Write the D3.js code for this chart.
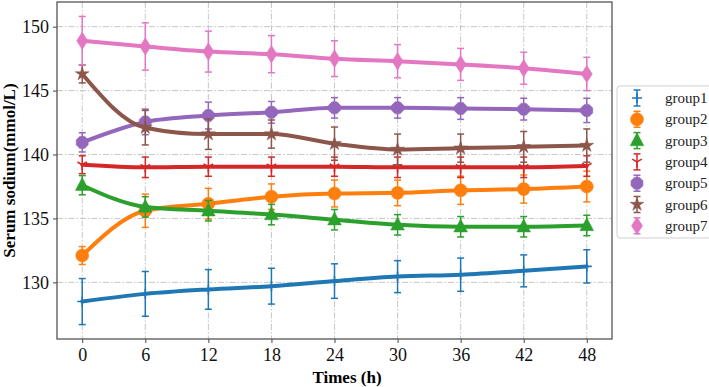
<!DOCTYPE html>
<html>
<head>
<meta charset="utf-8">
<script src="https://cdn.jsdelivr.net/npm/d3@7"></script>
<style>
  body { margin: 0; background: #fff; }
  svg { display: block; font-family: "Liberation Serif", "Times New Roman", serif; }
</style>
</head>
<body>
<div id="chart"></div>
<script>
var times = [0, 6, 12, 18, 24, 30, 36, 42, 48];
var groupNames = ["group1", "group2", "group3", "group4", "group5", "group6", "group7"];

var group1 = [128.5, 129.1, 129.45, 129.7, 130.1, 130.45, 130.6, 130.9, 131.25];
var group2 = [132.1, 135.6, 136.15, 136.7, 136.95, 137.0, 137.2, 137.3, 137.5];
var group3 = [137.6, 135.9, 135.6, 135.3, 134.9, 134.5, 134.35, 134.35, 134.45];
var group4 = [139.2, 139.0, 139.05, 139.05, 139.05, 139.0, 139.0, 139.0, 139.1];
var group5 = [140.95, 142.55, 143.05, 143.3, 143.65, 143.65, 143.6, 143.55, 143.45];
var group6 = [146.3, 142.1, 141.6, 141.6, 140.85, 140.4, 140.5, 140.6, 140.7];
var group7 = [148.9, 148.45, 148.05, 147.85, 147.5, 147.3, 147.05, 146.75, 146.3];

var err1 = [1.8, 1.75, 1.55, 1.4, 1.35, 1.25, 1.3, 1.25, 1.3];
var err2 = [0.7, 1.3, 1.2, 1.0, 1.05, 1.0, 1.1, 1.1, 1.2];
var err3 = [0.75, 0.8, 0.8, 0.8, 0.8, 0.8, 0.8, 0.8, 0.8];
var err4 = [0.7, 0.8, 0.75, 0.75, 0.75, 0.8, 0.8, 0.8, 0.8];
var err5 = [0.75, 1.0, 1.05, 0.85, 0.8, 0.8, 0.85, 0.85, 0.95];
var err6 = [0.7, 1.35, 1.2, 1.1, 1.3, 1.2, 1.1, 1.2, 1.3];
var err7 = [1.9, 1.85, 1.6, 1.45, 1.4, 1.3, 1.25, 1.25, 1.3];

var xTicks = [0, 6, 12, 18, 24, 30, 36, 42, 48];
var yTicks = [130, 135, 140, 145, 150];

var colors = ["#1f77b4", "#ff7f0e", "#2ca02c", "#d62728", "#9467bd", "#8c564b", "#e377c2"];
var markers = ["plus", "circle", "triangle", "tri", "octagon", "star", "diamond"];

var values = [group1, group2, group3, group4, group5, group6, group7];
var errs = [err1, err2, err3, err4, err5, err6, err7];

var W = 709, H = 387;
var margin = { top: 2, right: 97, bottom: 48, left: 57 };
var width = W - margin.left - margin.right,
    height = H - margin.top - margin.bottom;

var svg = d3.select("#chart").append("svg")
    .attr("width", W)
    .attr("height", H);

var g = svg.append("g")
    .attr("transform", "translate(" + margin.left + "," + margin.top + ")");

var x = d3.scaleLinear().domain([-2.4, 50.4]).range([0, width]);
var y = d3.scaleLinear().domain([125.57, 151.93]).range([height, 0]);

// grid
g.append("g").selectAll("line").data(xTicks).enter().append("line")
    .attr("x1", function (d) { return x(d); }).attr("x2", function (d) { return x(d); })
    .attr("y1", 0).attr("y2", height)
    .attr("stroke", "#c0c0c0").attr("stroke-width", 0.9)
    .attr("stroke-dasharray", "6,2,1.5,2");
g.append("g").selectAll("line").data(yTicks).enter().append("line")
    .attr("y1", function (d) { return y(d); }).attr("y2", function (d) { return y(d); })
    .attr("x1", 0).attr("x2", width)
    .attr("stroke", "#c0c0c0").attr("stroke-width", 0.9)
    .attr("stroke-dasharray", "6,2,1.5,2");

// axes
var xAxis = d3.axisBottom(x).tickValues(xTicks).tickSize(4).tickPadding(5);
var yAxis = d3.axisLeft(y).tickValues(yTicks).tickSize(4).tickPadding(4);

g.append("g").attr("transform", "translate(0," + height + ")").call(xAxis)
    .call(function (a) { a.select(".domain").remove(); });
g.append("g").call(yAxis)
    .call(function (a) { a.select(".domain").remove(); });

g.selectAll(".tick line").attr("stroke", "#444").attr("stroke-width", 1);
g.selectAll(".tick text").attr("fill", "#111").style("font-size", "18px")
    .style("font-family", "Liberation Serif");

function markerPath(type, s) {
    var p = d3.path();
    if (type === "octagon") {
        for (var i = 0; i < 8; i++) {
            var a = Math.PI / 8 + i * Math.PI / 4;
            var px = s * Math.cos(a), py = s * Math.sin(a);
            if (i === 0) p.moveTo(px, py); else p.lineTo(px, py);
        }
        p.closePath();
        return p.toString();
    }
    if (type === "diamond") {
        p.moveTo(0, -s * 1.35); p.lineTo(s * 0.85, 0); p.lineTo(0, s * 1.35); p.lineTo(-s * 0.85, 0); p.closePath();
        return p.toString();
    }
    if (type === "circle") return d3.symbol(d3.symbolCircle, Math.PI * s * s)();
    if (type === "triangle") {
        p.moveTo(0, -s * 1.2); p.lineTo(s * 1.05, s * 0.8); p.lineTo(-s * 1.05, s * 0.8); p.closePath();
        return p.toString();
    }
    if (type === "star") return d3.symbol(d3.symbolStar, s * s * 3.2)();
    if (type === "plus") {
        p.moveTo(-s, 0); p.lineTo(s, 0); p.moveTo(0, -s); p.lineTo(0, s);
        return p.toString();
    }
    if (type === "tri") {
        p.moveTo(0, 0); p.lineTo(0, s);
        p.moveTo(0, 0); p.lineTo(-s * 0.87, -s * 0.5);
        p.moveTo(0, 0); p.lineTo(s * 0.87, -s * 0.5);
        return p.toString();
    }
}
var markerSize = [5, 6.5, 6.5, 5.5, 6.5, 4.3, 6.5];

function drawMarker(sel, i) {
    var type = markers[i];
    var open = (type === "plus" || type === "tri");
    sel.append("path")
        .attr("d", markerPath(type, markerSize[i]))
        .attr("fill", open ? "none" : colors[i])
        .attr("stroke", colors[i])
        .attr("stroke-width", open ? 1.6 : 0.5);
}

var line = d3.line()
    .x(function (d) { return x(d.t); })
    .y(function (d) { return y(d.v); })
    .curve(d3.curveMonotoneX);

values.forEach(function (vals, i) {
    var data = times.map(function (t, k) { return { t: t, v: vals[k], e: errs[i][k] }; });
    var sg = g.append("g").attr("class", "series");

    // error bars
    var eb = sg.selectAll(".eb").data(data).enter().append("g");
    eb.append("line")
        .attr("x1", function (d) { return x(d.t); }).attr("x2", function (d) { return x(d.t); })
        .attr("y1", function (d) { return y(d.v - d.e); }).attr("y2", function (d) { return y(d.v + d.e); })
        .attr("stroke", colors[i]).attr("stroke-width", 1.5);
    [-1, 1].forEach(function (sgn) {
        eb.append("line")
            .attr("x1", function (d) { return x(d.t) - 3.5; }).attr("x2", function (d) { return x(d.t) + 3.5; })
            .attr("y1", function (d) { return y(d.v + sgn * d.e); }).attr("y2", function (d) { return y(d.v + sgn * d.e); })
            .attr("stroke", colors[i]).attr("stroke-width", 1.5);
    });

    sg.append("path").datum(data)
        .attr("d", line)
        .attr("fill", "none")
        .attr("stroke", colors[i])
        .attr("stroke-width", 4)
        .attr("stroke-linecap", "round");

    sg.selectAll(".mk").data(data).enter().append("g")
        .attr("transform", function (d) { return "translate(" + x(d.t) + "," + y(d.v) + ")"; })
        .each(function () { drawMarker(d3.select(this), i); });
});

// frame
g.append("rect").attr("width", width).attr("height", height)
    .attr("fill", "none").attr("stroke", "#555").attr("stroke-width", 1.3);

// axis titles
svg.append("text")
    .attr("x", 347)
    .attr("y", 383)
    .attr("text-anchor", "middle")
    .style("font-family", "Liberation Serif")
    .style("font-size", "17px").style("font-weight", "bold")
    .text("Times (h)");

svg.append("text")
    .attr("transform", "translate(15," + (margin.top + height / 2) + ") rotate(-90)")
    .attr("text-anchor", "middle")
    .style("font-family", "Liberation Serif")
    .style("font-size", "17px").style("font-weight", "bold")
    .text("Serum sodium(mmol/L)");

// legend
var legend = svg.append("g").attr("transform", "translate(617,86)");
legend.append("rect")
    .attr("width", 110).attr("height", 152).attr("rx", 3)
    .attr("fill", "#fff").attr("stroke", "#d0d0d0").attr("stroke-width", 1);

groupNames.forEach(function (name, i) {
    var item = legend.append("g").attr("transform", "translate(20," + (12 + i * 21.3) + ")");
    item.append("line").attr("x1", 0).attr("x2", 0).attr("y1", -8).attr("y2", 8)
        .attr("stroke", colors[i]).attr("stroke-width", 1.5);
    [-8, 8].forEach(function (cy) {
        item.append("line").attr("x1", -3.5).attr("x2", 3.5).attr("y1", cy).attr("y2", cy)
            .attr("stroke", colors[i]).attr("stroke-width", 1.5);
    });
    drawMarker(item, i);
    item.append("text")
        .attr("x", 28).attr("y", 5)
        .style("font-family", "Liberation Serif")
        .style("font-size", "15px")
        .attr("fill", "#222")
        .text(name);
});
</script>
</body>
</html>
